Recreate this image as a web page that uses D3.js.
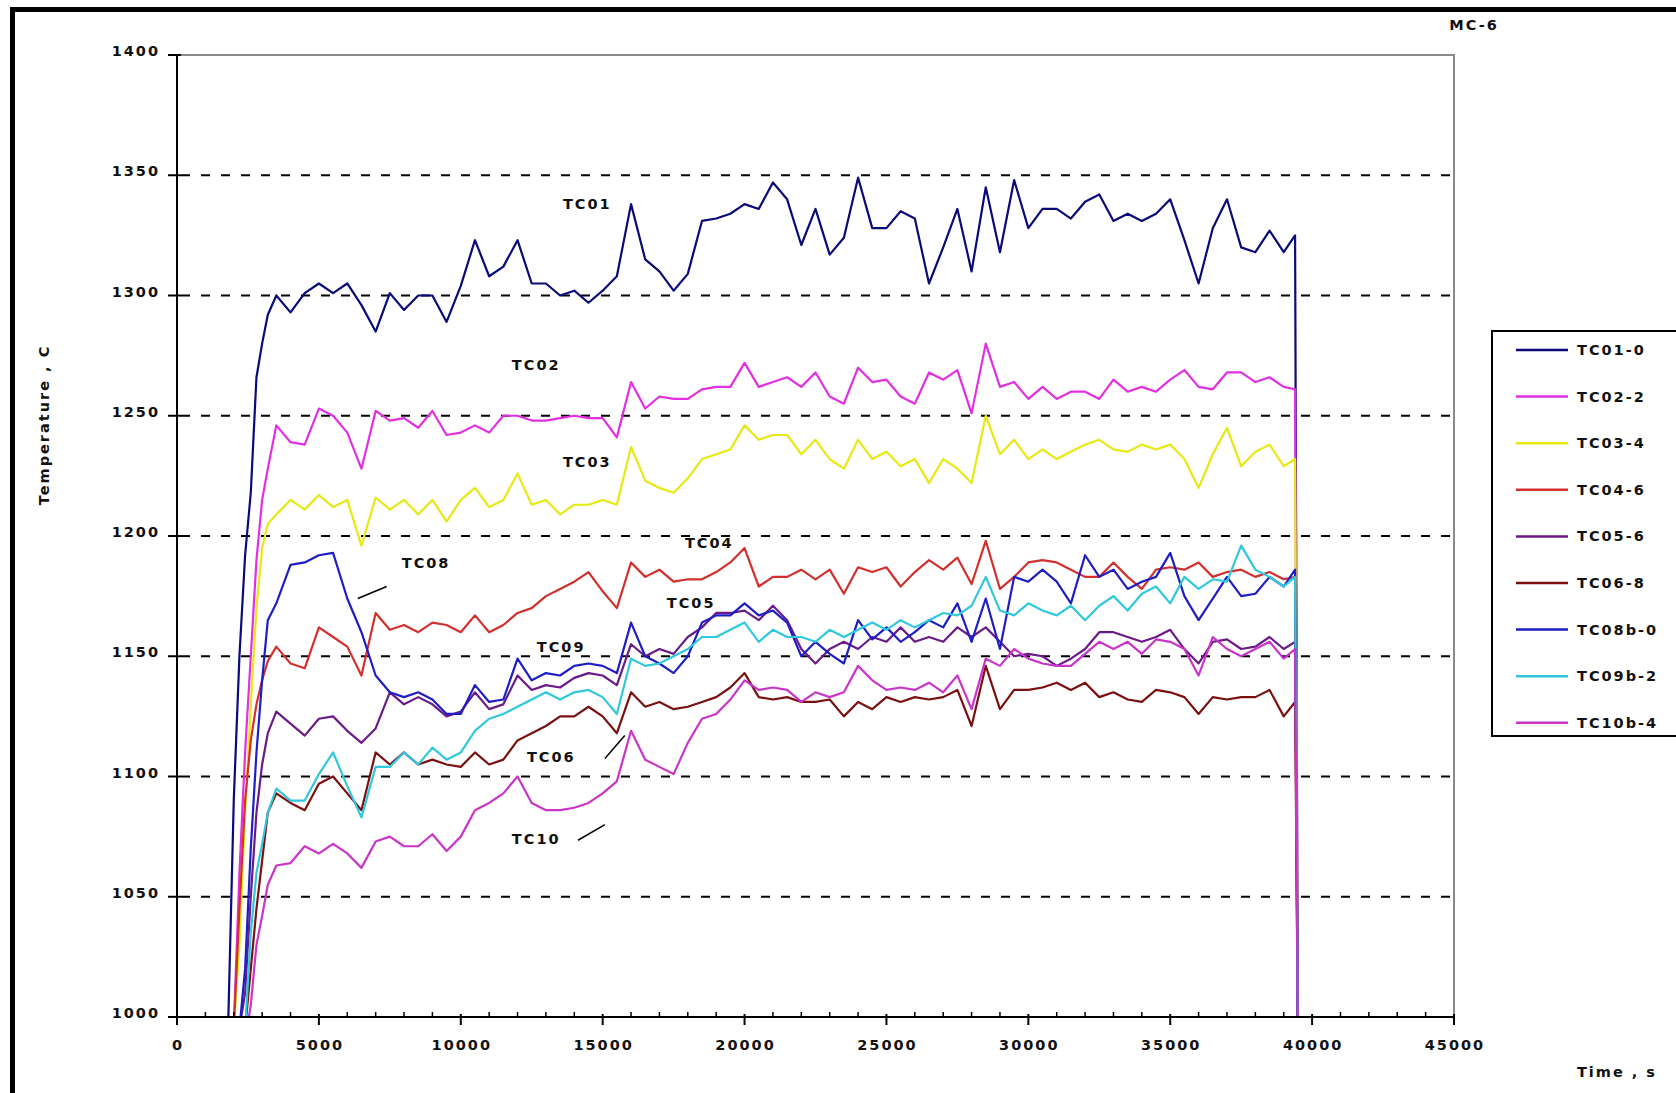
<!DOCTYPE html>
<meta charset="utf-8">
<style>

body {
  margin: 0;
  background: #fff;
}

text {
  font-family: "DejaVu Sans", sans-serif;
  font-weight: bold;
  font-size: 14.5px;
  letter-spacing: 2px;
  fill: #111;
}

.grid line {
  stroke: #000;
  stroke-width: 2px;
  stroke-dasharray: 9, 11;
}

.series {
  fill: none;
  stroke-width: 2.2px;
  stroke-linejoin: round;
}

</style>
<svg width="1676" height="1093"></svg>
<script src="https://d3js.org/d3.v7.min.js"></script>
<script>

// time axis (s) shared by all thermocouples
var times = [1800, 2000, 2200, 2400, 2600, 2800, 3000, 3200, 3500, 4000,
  4500, 5000, 5500, 6000, 6500, 7000, 7500, 8000, 8500, 9000,
  9500, 10000, 10500, 11000, 11500, 12000, 12500, 13000, 13500, 14000,
  14500, 15000, 15500, 16000, 16500, 17000, 17500, 18000, 18500, 19000,
  19500, 20000, 20500, 21000, 21500, 22000, 22500, 23000, 23500, 24000,
  24500, 25000, 25500, 26000, 26500, 27000, 27500, 28000, 28500, 29000,
  29500, 30000, 30500, 31000, 31500, 32000, 32500, 33000, 33500, 34000,
  34500, 35000, 35500, 36000, 36500, 37000, 37500, 38000, 38500, 39000,
  39400, 39500];

var tc01 = [995, 1090, 1150, 1192, 1218, 1266, 1280, 1292, 1300, 1293,
  1301, 1305, 1301, 1305, 1296, 1285, 1301, 1294, 1300, 1300,
  1289, 1304, 1323, 1308, 1312, 1323, 1305, 1305, 1300, 1302,
  1297, 1302, 1308, 1338, 1315, 1310, 1302, 1309, 1331, 1332,
  1334, 1338, 1336, 1347, 1340, 1321, 1336, 1317, 1324, 1349,
  1328, 1328, 1335, 1332, 1305, 1320, 1336, 1310, 1345, 1318,
  1348, 1328, 1336, 1336, 1332, 1339, 1342, 1331, 1334, 1331,
  1334, 1340, 1323, 1305, 1328, 1340, 1320, 1318, 1327, 1318,
  1325, 990];

var tc02 = [null, 995, 1060, 1110, 1150, 1190, 1215, 1228, 1246, 1239,
  1238, 1253, 1250, 1243, 1228, 1252, 1248, 1249, 1245, 1252,
  1242, 1243, 1246, 1243, 1250, 1250, 1248, 1248, 1249, 1250,
  1249, 1249, 1241, 1264, 1253, 1258, 1257, 1257, 1261, 1262,
  1262, 1272, 1262, 1264, 1266, 1262, 1268, 1258, 1255, 1270,
  1264, 1265, 1258, 1255, 1268, 1265, 1269, 1251, 1280, 1262,
  1264, 1257, 1262, 1257, 1260, 1260, 1257, 1265, 1260, 1262,
  1260, 1265, 1269, 1262, 1261, 1268, 1268, 1264, 1266, 1262,
  1261, 990];

var tc03 = [null, 995, 1030, 1085, 1130, 1170, 1195, 1205, 1209, 1215,
  1211, 1217, 1212, 1215, 1196, 1216, 1211, 1215, 1209, 1215,
  1206, 1215, 1220, 1212, 1215, 1226, 1213, 1215, 1209, 1213,
  1213, 1215, 1213, 1237, 1223, 1220, 1218, 1224, 1232, 1234,
  1236, 1246, 1240, 1242, 1242, 1234, 1240, 1232, 1228, 1240,
  1232, 1235, 1229, 1232, 1222, 1232, 1228, 1222, 1250, 1234,
  1240, 1232, 1236, 1232, 1235, 1238, 1240, 1236, 1235, 1238,
  1236, 1238, 1232, 1220, 1234, 1245, 1229, 1235, 1238, 1229,
  1232, 990];

var tc04 = [null, 995, 1045, 1090, 1115, 1130, 1140, 1148, 1154, 1147,
  1145, 1162, 1158, 1154, 1142, 1168, 1161, 1163, 1160, 1164,
  1163, 1160, 1167, 1160, 1163, 1168, 1170, 1175, 1178, 1181,
  1185, 1177, 1170, 1189, 1183, 1186, 1181, 1182, 1182, 1185,
  1189, 1195, 1179, 1183, 1183, 1186, 1182, 1186, 1176, 1187,
  1185, 1187, 1179, 1185, 1190, 1186, 1191, 1180, 1198, 1178,
  1183, 1189, 1190, 1189, 1186, 1183, 1183, 1189, 1183, 1178,
  1186, 1187, 1186, 1189, 1183, 1185, 1186, 1183, 1185, 1182,
  1183, 990];

var tc05 = [null, null, 995, 1010, 1050, 1085, 1105, 1118, 1127, 1122,
  1117, 1124, 1125, 1119, 1114, 1120, 1135, 1130, 1133, 1130,
  1125, 1127, 1135, 1128, 1130, 1142, 1136, 1138, 1137, 1141,
  1143, 1142, 1138, 1155, 1150, 1153, 1151, 1158, 1162, 1168,
  1168, 1169, 1165, 1171, 1165, 1153, 1147, 1153, 1156, 1153,
  1158, 1156, 1162, 1156, 1158, 1156, 1162, 1158, 1162, 1156,
  1150, 1151, 1150, 1146, 1149, 1153, 1160, 1160, 1158, 1156,
  1158, 1161, 1153, 1147, 1156, 1157, 1153, 1154, 1158, 1153,
  1156, 990];

var tc06 = [null, null, null, 995, 1020, 1045, 1065, 1085, 1093, 1089,
  1086, 1097, 1100, 1093, 1086, 1110, 1105, 1110, 1105, 1107,
  1105, 1104, 1110, 1105, 1107, 1115, 1118, 1121, 1125, 1125,
  1129, 1125, 1118, 1135, 1129, 1131, 1128, 1129, 1131, 1133,
  1137, 1143, 1133, 1132, 1133, 1131, 1131, 1132, 1125, 1131,
  1128, 1133, 1131, 1133, 1132, 1133, 1136, 1121, 1146, 1128,
  1136, 1136, 1137, 1139, 1136, 1139, 1133, 1135, 1132, 1131,
  1136, 1135, 1133, 1126, 1133, 1132, 1133, 1133, 1136, 1125,
  1131, 990];

var tc08 = [null, null, 995, 1020, 1070, 1110, 1140, 1165, 1172, 1188,
  1189, 1192, 1193, 1174, 1160, 1142, 1135, 1133, 1135, 1132,
  1126, 1126, 1138, 1131, 1132, 1149, 1140, 1143, 1142, 1146,
  1147, 1146, 1143, 1164, 1150, 1147, 1143, 1150, 1164, 1167,
  1167, 1172, 1167, 1169, 1164, 1150, 1156, 1151, 1147, 1165,
  1157, 1162, 1156, 1160, 1165, 1162, 1172, 1156, 1174, 1153,
  1183, 1181, 1186, 1181, 1172, 1192, 1183, 1186, 1178, 1181,
  1183, 1193, 1175, 1165, 1174, 1183, 1175, 1176, 1183, 1179,
  1186, 990];

var tc09 = [null, null, null, 995, 1035, 1060, 1072, 1085, 1095, 1090,
  1090, 1101, 1110, 1096, 1083, 1104, 1104, 1110, 1105, 1112,
  1107, 1110, 1119, 1124, 1126, 1129, 1132, 1135, 1132, 1135,
  1136, 1133, 1126, 1149, 1146, 1147, 1150, 1153, 1158, 1158,
  1161, 1164, 1156, 1161, 1158, 1158, 1156, 1161, 1158, 1161,
  1164, 1161, 1165, 1162, 1165, 1168, 1167, 1171, 1183, 1169,
  1167, 1172, 1169, 1167, 1171, 1165, 1171, 1175, 1169, 1176,
  1179, 1172, 1183, 1178, 1182, 1181, 1196, 1186, 1183, 1179,
  1183, 990];

var tc10 = [null, null, null, 990, 1005, 1030, 1042, 1055, 1063, 1064,
  1071, 1068, 1072, 1068, 1062, 1073, 1075, 1071, 1071, 1076,
  1069, 1075, 1086, 1089, 1093, 1100, 1089, 1086, 1086, 1087,
  1089, 1093, 1098, 1119, 1107, 1104, 1101, 1114, 1124, 1126,
  1132, 1140, 1136, 1137, 1136, 1131, 1135, 1133, 1135, 1146,
  1140, 1136, 1137, 1136, 1139, 1135, 1142, 1128, 1149, 1146,
  1153, 1149, 1147, 1146, 1146, 1151, 1156, 1153, 1156, 1151,
  1157, 1156, 1153, 1142, 1158, 1153, 1150, 1153, 1156, 1149,
  1153, 990];

var seriesValues = [tc01, tc02, tc03, tc04, tc05, tc06, tc08, tc09, tc10];
var legendNames = ["TC01-0", "TC02-2", "TC03-4", "TC04-6", "TC05-6", "TC06-8", "TC08b-0", "TC09b-2", "TC10b-4"];
var colors = ["#0a0a78", "#e22fe2", "#e8e812", "#d2302e", "#6a1b88", "#7a1010", "#1e1ec4", "#2fc8dc", "#c934c9"];

var yTicks = [1000, 1050, 1100, 1150, 1200, 1250, 1300, 1350, 1400];
var xTicks = [0, 5000, 10000, 15000, 20000, 25000, 30000, 35000, 40000, 45000];

// in-plot series labels: [text, time, temperature]
var notes = [
  ["TC01", 13600, 1338], ["TC02", 11800, 1271], ["TC03", 13600, 1231],
  ["TC04", 17900, 1197], ["TC05", 17260, 1172], ["TC08", 7920, 1189],
  ["TC09", 12680, 1154], ["TC06", 12330, 1108], ["TC10", 11800, 1074]
];
// short leader strokes: [t1, T1, t2, T2]
var leaders = [
  [6370, 1174, 7390, 1179],
  [15080, 1107.5, 15780, 1117],
  [14130, 1073.5, 15080, 1080]
];

var svg = d3.select("svg");

var x = d3.scaleLinear().domain([0, 45000]).range([177, 1454]),
    y = d3.scaleLinear().domain([1000, 1400]).range([1017, 55]);

// outer frame
svg.append("rect")
    .attr("x", 12.5).attr("y", 9.5)
    .attr("width", 1720).attr("height", 1120)
    .attr("fill", "none").attr("stroke", "#000").attr("stroke-width", 5);

// plot top / right border
svg.append("path")
    .attr("d", "M" + x(0) + "," + y(1400) + "H" + x(45000) + "V" + y(1000))
    .attr("fill", "none").attr("stroke", "#8a8a8a").attr("stroke-width", 2);

// dashed grid
svg.append("g").attr("class", "grid")
  .selectAll("line")
  .data(yTicks.filter(function(d) { return d > 1000 && d < 1400; }))
  .enter().append("line")
    .attr("x1", x(0) + 4).attr("x2", x(45000))
    .attr("y1", function(d) { return y(d); })
    .attr("y2", function(d) { return y(d); });

svg.append("clipPath").attr("id", "plot")
  .append("rect")
    .attr("x", x(0)).attr("y", y(1400))
    .attr("width", x(45000) - x(0)).attr("height", y(1000) - y(1400));

var line = d3.line()
    .defined(function(d) { return d[1] != null; })
    .x(function(d) { return x(d[0]); })
    .y(function(d) { return y(d[1]); });

svg.append("g").attr("clip-path", "url(#plot)")
  .selectAll("path")
  .data(seriesValues)
  .enter().append("path")
    .attr("class", "series")
    .attr("stroke", function(d, i) { return colors[i]; })
    .attr("d", function(vals) {
      return line(times.map(function(t, i) { return [t, vals[i]]; }));
    });

// axes
var axes = svg.append("g").attr("stroke", "#000").attr("stroke-width", 2);
axes.append("line").attr("x1", x(0)).attr("x2", x(0)).attr("y1", y(1400)).attr("y2", y(1000));
axes.append("line").attr("x1", x(0)).attr("x2", x(45000)).attr("y1", y(1000)).attr("y2", y(1000));

axes.selectAll(".ytick").data(yTicks).enter().append("line")
    .attr("x1", x(0) - 9).attr("x2", x(0) + 4)
    .attr("y1", function(d) { return y(d); })
    .attr("y2", function(d) { return y(d); });

axes.selectAll(".xtick").data(xTicks).enter().append("line")
    .attr("x1", function(d) { return x(d); })
    .attr("x2", function(d) { return x(d); })
    .attr("y1", y(1000) - 3).attr("y2", y(1000) + 8);

axes.selectAll(".xminor")
  .data(d3.range(1000, 45000, 1000).filter(function(d) { return d % 5000; }))
  .enter().append("line")
    .attr("stroke-width", 1.5)
    .attr("x1", function(d) { return x(d); })
    .attr("x2", function(d) { return x(d); })
    .attr("y1", y(1000) - 5).attr("y2", y(1000));

svg.selectAll(".ylab").data(yTicks).enter().append("text")
    .attr("x", 160)
    .attr("y", function(d) { return y(d) + 1; })
    .attr("text-anchor", "end")
    .text(function(d) { return d; });

svg.selectAll(".xlab").data(xTicks).enter().append("text")
    .attr("x", function(d) { return x(d) + 1; })
    .attr("y", 1050)
    .attr("text-anchor", "middle")
    .text(function(d) { return d; });

svg.append("text")
    .attr("transform", "translate(49,425) rotate(-90)")
    .attr("text-anchor", "middle")
    .text("Temperature , C");

svg.append("text")
    .attr("x", 1657).attr("y", 1077)
    .attr("text-anchor", "end")
    .text("Time , s");

svg.append("text")
    .attr("x", 1474).attr("y", 30)
    .attr("text-anchor", "middle")
    .text("MC-6");

// series labels
svg.selectAll(".note").data(notes).enter().append("text")
    .attr("x", function(d) { return x(d[1]); })
    .attr("y", function(d) { return y(d[2]); })
    .attr("dy", "0.35em")
    .text(function(d) { return d[0]; });

svg.selectAll(".leader").data(leaders).enter().append("line")
    .attr("stroke", "#000").attr("stroke-width", 1.5)
    .attr("x1", function(d) { return x(d[0]); })
    .attr("y1", function(d) { return y(d[1]); })
    .attr("x2", function(d) { return x(d[2]); })
    .attr("y2", function(d) { return y(d[3]); });

// legend
var legend = svg.append("g");
legend.append("rect")
    .attr("x", 1492).attr("y", 331)
    .attr("width", 300).attr("height", 405)
    .attr("fill", "#fff").attr("stroke", "#000").attr("stroke-width", 2);

var row = legend.selectAll(".row").data(legendNames).enter().append("g")
    .attr("transform", function(d, i) { return "translate(0," + (350 + i * 46.6) + ")"; });

row.append("line")
    .attr("x1", 1516).attr("x2", 1568)
    .attr("stroke-width", 2.5)
    .attr("stroke", function(d, i) { return colors[i]; });

row.append("text")
    .attr("x", 1577).attr("dy", "0.35em")
    .text(function(d) { return d; });

</script>
